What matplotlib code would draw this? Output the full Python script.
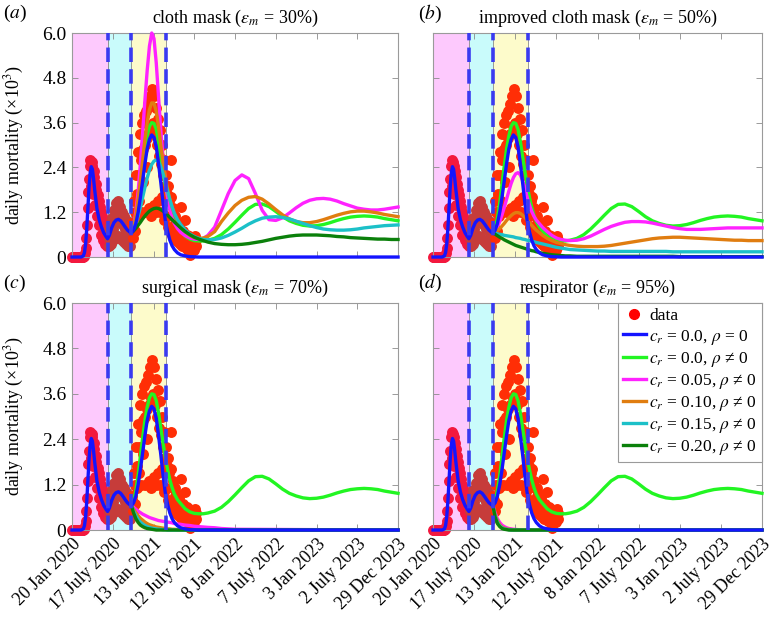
import matplotlib
matplotlib.use('Agg')
import matplotlib.pyplot as plt
from matplotlib.lines import Line2D

plt.rcParams['font.family'] = ['Liberation Serif', 'DejaVu Serif']
plt.rcParams['mathtext.fontset'] = 'stix'

# ---- observed daily mortality (x10^3), days since 20 Jan 2020 ----
p1_days = [0, 3, 6, 9, 12, 15, 18, 21, 24, 27, 30, 33, 36, 39, 42, 45, 48, 51, 54, 57,
           60, 63, 66, 69, 72, 75, 78, 81, 84, 87, 90, 93, 96, 99, 102, 105, 108, 111,
           114, 117, 120, 123, 126, 129, 132, 135, 138, 141, 144, 147, 150, 153, 156]
p1_vals = [0, 0, 0, 0, 0, 0, 0, 0, 0, 0, 0, 0, 0, 0, 0, 0, 0.01, 0.02, 0.04, 0.1,
           0.25, 0.5, 0.85, 1.3, 1.75, 2.1, 2.45, 2.6, 1.9, 2.55, 2.45, 1.7, 2.3, 2.15,
           1.4, 1.95, 1.8, 1.1, 1.65, 1.5, 0.85, 1.35, 1.2, 0.6, 1.1, 1.0, 0.45, 0.95,
           0.8, 0.35, 0.8, 0.7, 0.3]
p2_days = [159, 162, 165, 168, 171, 174, 177, 180, 183, 186, 189, 192, 195, 198, 201,
           204, 207, 210, 213, 216, 219, 222, 225, 228, 231, 234, 237, 240, 243, 246,
           249, 252, 255, 258, 261]
p2_vals = [0.7, 0.5, 0.3, 0.85, 0.6, 0.35, 1.05, 0.75, 0.45, 1.25, 0.9, 0.5, 1.45, 1.1,
           0.55, 1.5, 1.0, 0.5, 1.35, 0.95, 0.45, 1.2, 0.85, 0.4, 1.1, 0.75, 0.35, 1.0,
           0.7, 0.3, 0.9, 0.6, 0.3, 0.85, 0.55]
p3_days = [264, 267, 270, 273, 276, 279, 282, 285, 288, 291, 294, 297, 300, 303, 306,
           309, 312, 315, 318, 321, 324, 327, 330, 333, 336, 339, 342, 345, 348, 351,
           354, 357, 360, 363, 366, 369, 372, 375, 378, 381, 384, 387, 390, 393, 396,
           399, 402, 405, 408, 411, 414, 417, 420, 423, 426, 429, 432, 435, 438, 441,
           444, 447, 450, 453, 456, 459, 462, 465, 468, 471, 474, 477, 480, 483, 486,
           489, 492, 495, 498, 501, 504, 507, 510, 513, 516, 519, 522, 525, 528, 531,
           534, 537, 540, 543, 546, 549]
p3_vals = [0.9, 0.8, 0.5, 1.5, 1.2, 0.7, 2.2, 1.7, 1.1, 2.8, 2.2, 1.5, 3.3, 2.6, 1.2,
           3.6, 2.9, 2.0, 3.8, 3.0, 1.2, 3.9, 3.2, 2.4, 4.1, 3.3, 1.3, 4.3, 3.5, 1.1,
           4.5, 3.6, 1.4, 4.3, 3.3, 1.2, 4.0, 3.0, 1.5, 3.7, 2.7, 1.2, 3.4, 2.5, 1.6,
           3.0, 2.2, 1.0, 2.6, 1.9, 1.1, 2.2, 1.7, 0.8, 1.9, 1.5, 0.7, 1.6, 2.6, 0.6,
           1.3, 1.1, 0.5, 1.1, 0.9, 0.45, 0.95, 0.8, 0.4, 0.85, 0.7, 0.35, 1.35, 0.65, 0.3,
           0.7, 0.6, 0.3, 1.0, 0.55, 0.25, 0.6, 0.5, 0.2, 0.55, 0.45, 0.05, 0.5, 0.4, 0.2,
           0.45, 0.35, 0.2, 0.55, 0.3, 0.45]

# ---- model: c_r = 0.0, rho = 0 (same in every panel) ----
base_days = [0, 20, 40, 50, 55, 60, 65, 70, 75, 80, 85, 90, 95, 100, 110, 120, 130, 140,
             150, 157, 165, 175, 185, 195, 205, 215, 225, 235, 245, 255, 262, 272, 282,
             292, 302, 312, 322, 332, 342, 352, 362, 372, 382, 392, 402, 412, 422, 432,
             442, 452, 466, 480, 500, 520, 560, 1440]
base_vals = [0, 0, 0, 0.03, 0.12, 0.35, 0.75, 1.3, 1.85, 2.25, 2.42, 2.35, 2.1, 1.8, 1.3,
             1.0, 0.8, 0.65, 0.55, 0.49, 0.58, 0.78, 0.92, 0.99, 1.01, 0.97, 0.89, 0.8,
             0.72, 0.67, 0.64, 0.72, 0.9, 1.2, 1.6, 2.05, 2.5, 2.9, 3.15, 3.27, 3.2, 2.95,
             2.5, 2.0, 1.45, 0.98, 0.68, 0.45, 0.3, 0.2, 0.11, 0.06, 0.03, 0.01, 0, 0]

# ---- model runs after mask intervention ----
run_days = [262, 272, 282, 292, 302, 312, 322, 332, 342, 352, 362, 372, 382, 392, 402,
            412, 422, 432, 442, 452, 466, 480, 500, 520, 540, 560, 580, 600, 630, 660,
            690, 720, 750, 780, 810, 840, 870, 900, 930, 960, 990, 1020, 1050, 1080,
            1110, 1140, 1170, 1200, 1230, 1260, 1290, 1320, 1350, 1380, 1410, 1440]
short_days = [262, 272, 282, 292, 302, 312, 322, 332, 342, 352, 362, 372, 382, 392, 402,
              412, 422, 432, 442, 452, 466, 480, 500, 520, 540, 560, 580, 600, 630, 660,
              690, 720, 1440]

# c_r = 0.0, rho != 0 (same in every panel)
green_vals = [0.65, 0.78, 1.05, 1.45, 1.95, 2.45, 2.9, 3.25, 3.5, 3.6, 3.58, 3.42, 3.1,
              2.7, 2.3, 1.92, 1.6, 1.33, 1.12, 0.95, 0.8, 0.7, 0.56, 0.48, 0.44, 0.43,
              0.43, 0.45, 0.5, 0.6, 0.75, 0.93, 1.12, 1.3, 1.41, 1.42, 1.35, 1.22, 1.08,
              0.97, 0.9, 0.85, 0.83, 0.84, 0.87, 0.92, 0.98, 1.03, 1.07, 1.09, 1.1, 1.09,
              1.07, 1.03, 1.0, 0.97]

# panel (a) cloth mask
mag_a = [0.65, 0.85, 1.2, 1.75, 2.5, 3.35, 4.2, 5.0, 5.65, 6.0, 5.85, 5.2, 4.3, 3.4, 2.65,
         2.05, 1.6, 1.28, 1.05, 0.9, 0.76, 0.66, 0.57, 0.51, 0.48, 0.47, 0.5, 0.58, 0.8,
         1.25, 1.7, 2.05, 2.2, 2.1, 1.7, 1.25, 1.0, 0.98, 1.05, 1.18, 1.32, 1.44, 1.52,
         1.56, 1.57, 1.55, 1.5, 1.43, 1.37, 1.31, 1.28, 1.26, 1.26, 1.28, 1.31, 1.34]
orange_a = [0.65, 0.82, 1.12, 1.55, 2.05, 2.6, 3.15, 3.6, 3.95, 4.13, 4.12, 3.9, 3.5, 3.0,
            2.55, 2.15, 1.82, 1.55, 1.33, 1.15, 0.97, 0.83, 0.68, 0.58, 0.52, 0.5, 0.51,
            0.55, 0.68, 0.95, 1.18, 1.38, 1.52, 1.6, 1.62, 1.55, 1.42, 1.27, 1.13, 1.02,
            0.95, 0.92, 0.92, 0.95, 1.0, 1.06, 1.12, 1.17, 1.21, 1.23, 1.23, 1.21, 1.18,
            1.14, 1.11, 1.08]
cyan_a = [0.65, 0.74, 0.9, 1.1, 1.33, 1.6, 1.87, 2.12, 2.33, 2.48, 2.57, 2.6, 2.55, 2.42,
          2.23, 2.0, 1.76, 1.54, 1.34, 1.17, 1.0, 0.87, 0.72, 0.62, 0.55, 0.5, 0.47, 0.46,
          0.47, 0.51, 0.58, 0.67, 0.77, 0.88, 0.97, 1.04, 1.07, 1.08, 1.06, 1.02, 0.96,
          0.9, 0.84, 0.79, 0.75, 0.73, 0.72, 0.72, 0.73, 0.75, 0.78, 0.8, 0.82, 0.84,
          0.85, 0.86]
dkgreen_a = [0.65, 0.7, 0.77, 0.85, 0.93, 1.02, 1.1, 1.17, 1.23, 1.27, 1.3, 1.31, 1.3,
             1.27, 1.23, 1.18, 1.12, 1.06, 1.0, 0.94, 0.86, 0.78, 0.68, 0.6, 0.53, 0.48,
             0.44, 0.4, 0.36, 0.34, 0.33, 0.33, 0.34, 0.36, 0.39, 0.42, 0.46, 0.5, 0.53,
             0.56, 0.58, 0.59, 0.59, 0.59, 0.58, 0.57, 0.55, 0.54, 0.52, 0.51, 0.5, 0.49,
             0.48, 0.48, 0.47, 0.47]

# panel (b) improved cloth mask
mag_b = [0.65, 0.7, 0.8, 0.95, 1.13, 1.33, 1.55, 1.77, 1.97, 2.13, 2.23, 2.26, 2.2, 2.05,
         1.85, 1.6, 1.4, 1.22, 1.09, 0.99, 0.89, 0.79, 0.68, 0.58, 0.51, 0.47, 0.45, 0.44,
         0.45, 0.49, 0.56, 0.65, 0.74, 0.82, 0.88, 0.93, 0.95, 0.95, 0.94, 0.91, 0.87,
         0.83, 0.79, 0.76, 0.74, 0.74, 0.74, 0.75, 0.76, 0.77, 0.78, 0.78, 0.78, 0.78,
         0.78, 0.78]
orange_b = [0.65, 0.67, 0.71, 0.76, 0.83, 0.9, 0.98, 1.05, 1.11, 1.16, 1.19, 1.19, 1.17,
            1.12, 1.06, 0.99, 0.92, 0.85, 0.78, 0.72, 0.65, 0.58, 0.5, 0.44, 0.39, 0.36,
            0.33, 0.31, 0.29, 0.28, 0.28, 0.28, 0.29, 0.31, 0.34, 0.37, 0.4, 0.43, 0.46,
            0.49, 0.51, 0.52, 0.53, 0.53, 0.52, 0.51, 0.5, 0.49, 0.48, 0.47, 0.46, 0.45,
            0.45, 0.44, 0.44, 0.44]
cyan_b = [0.65, 0.64, 0.62, 0.61, 0.6, 0.58, 0.57, 0.56, 0.55, 0.54, 0.52, 0.51, 0.5, 0.48,
          0.47, 0.45, 0.44, 0.42, 0.41, 0.39, 0.37, 0.35, 0.32, 0.29, 0.26, 0.24, 0.22,
          0.2, 0.19, 0.18, 0.17, 0.16, 0.16, 0.15, 0.15, 0.15, 0.15, 0.15, 0.15, 0.15,
          0.15, 0.15, 0.14, 0.14, 0.14, 0.14, 0.14, 0.14, 0.14, 0.14, 0.14, 0.14, 0.14,
          0.14, 0.14, 0.14]
dkgreen_b = [0.65, 0.61, 0.57, 0.53, 0.5, 0.46, 0.43, 0.4, 0.37, 0.34, 0.31, 0.29, 0.27,
             0.25, 0.23, 0.21, 0.19, 0.17, 0.16, 0.14, 0.12, 0.1, 0.08, 0.06, 0.05, 0.04,
             0.03, 0.03, 0.02, 0.02, 0.02, 0.02, 0.02, 0.02, 0.02, 0.02, 0.02, 0.02, 0.02,
             0.02, 0.02, 0.02, 0.02, 0.01, 0.01, 0.01, 0.01, 0.01, 0.01, 0.01, 0.01, 0.01,
             0.01, 0.01, 0.01, 0.01]

# panel (c) surgical mask
mag_c = [0.65, 0.6, 0.55, 0.5, 0.46, 0.42, 0.39, 0.36, 0.33, 0.31, 0.29, 0.27, 0.25, 0.24,
         0.23, 0.22, 0.21, 0.2, 0.19, 0.17, 0.16, 0.15, 0.13, 0.12, 0.1, 0.09, 0.08, 0.07,
         0.06, 0.04, 0.03, 0.02, 0.0]
orange_c = [0.65, 0.55, 0.46, 0.38, 0.31, 0.26, 0.21, 0.17, 0.14, 0.12, 0.1, 0.08, 0.07,
            0.06, 0.05, 0.04, 0.03, 0.03, 0.02, 0.02, 0.01, 0.01, 0.01, 0.0, 0.0, 0.0,
            0.0, 0.0, 0.0, 0.0, 0.0, 0.0, 0.0]
cyan_c = [0.65, 0.5, 0.38, 0.28, 0.21, 0.16, 0.12, 0.09, 0.07, 0.05, 0.04, 0.03, 0.02,
          0.02, 0.01, 0.01, 0.0, 0.0, 0.0, 0.0, 0.0, 0.0, 0.0, 0.0, 0.0, 0.0, 0.0, 0.0,
          0.0, 0.0, 0.0, 0.0, 0.0]
dkgreen_c = [0.65, 0.45, 0.3, 0.2, 0.13, 0.09, 0.06, 0.04, 0.03, 0.02, 0.01, 0.0, 0.0,
             0.0, 0.0, 0.0, 0.0, 0.0, 0.0, 0.0, 0.0, 0.0, 0.0, 0.0, 0.0, 0.0, 0.0, 0.0,
             0.0, 0.0, 0.0, 0.0, 0.0]

# panel (d) respirator
mag_d = [0.65, 0.45, 0.3, 0.2, 0.13, 0.09, 0.06, 0.04, 0.03, 0.02, 0.015, 0.01, 0.0, 0.0,
         0.0, 0.0, 0.0, 0.0, 0.0, 0.0, 0.0, 0.0, 0.0, 0.0, 0.0, 0.0, 0.0, 0.0, 0.0, 0.0,
         0.0, 0.0, 0.0]
orange_d = [0.65, 0.4, 0.24, 0.14, 0.08, 0.05, 0.03, 0.02, 0.01, 0.0, 0.0, 0.0, 0.0, 0.0,
            0.0, 0.0, 0.0, 0.0, 0.0, 0.0, 0.0, 0.0, 0.0, 0.0, 0.0, 0.0, 0.0, 0.0, 0.0,
            0.0, 0.0, 0.0, 0.0]
cyan_d = [0.65, 0.37, 0.2, 0.11, 0.06, 0.03, 0.02, 0.01, 0.0, 0.0, 0.0, 0.0, 0.0, 0.0,
          0.0, 0.0, 0.0, 0.0, 0.0, 0.0, 0.0, 0.0, 0.0, 0.0, 0.0, 0.0, 0.0, 0.0, 0.0, 0.0,
          0.0, 0.0, 0.0]
dkgreen_d = [0.65, 0.34, 0.17, 0.09, 0.04, 0.02, 0.01, 0.0, 0.0, 0.0, 0.0, 0.0, 0.0, 0.0,
             0.0, 0.0, 0.0, 0.0, 0.0, 0.0, 0.0, 0.0, 0.0, 0.0, 0.0, 0.0, 0.0, 0.0, 0.0,
             0.0, 0.0, 0.0, 0.0]

tick_days = [0, 180, 360, 540, 720, 900, 1080, 1260, 1440]
tick_labels = ['20 Jan 2020', '17 July 2020', '13 Jan 2021', '12 July 2021', '8 Jan 2022',
               '7 July 2022', '3 Jan 2023', '2 July 2023', '29 Dec 2023']
y_ticks = [0, 1.2, 2.4, 3.6, 4.8, 6.0]
y_labels = ['0', '1.2', '2.4', '3.6', '4.8', '6.0']
phase_days = [157, 262, 414]

# colours
C_BLUE = '#1414ff'
C_GREEN = '#22f522'
C_MAG = '#ff22ff'
C_ORANGE = '#e07d10'
C_CYAN = '#1cc0c8'
C_DKGREEN = '#0b800b'
SHADES = ['#fdc9fd', '#c9fbfb', '#fdfbcb']

legend_labels = ['data',
                 r'$c_r$ = 0.0, $\rho$ = 0',
                 r'$c_r$ = 0.0, $\rho$ ≠ 0',
                 r'$c_r$ = 0.05, $\rho$ ≠ 0',
                 r'$c_r$ = 0.10, $\rho$ ≠ 0',
                 r'$c_r$ = 0.15, $\rho$ ≠ 0',
                 r'$c_r$ = 0.20, $\rho$ ≠ 0']


def draw_panel(ax, days, mag, orange, cyan, dkgreen, title, show_x, show_y):
    edges = [0] + phase_days
    for i in range(3):
        ax.axvspan(edges[i], edges[i + 1] + 3, facecolor=SHADES[i], edgecolor='#8a8a8a',
                   linewidth=0.6, zorder=0)

    ms = 62
    ax.scatter(p1_days, p1_vals, s=ms, color='#f3183e', linewidths=0, zorder=2, clip_on=False)
    ax.scatter(p2_days, p2_vals, s=ms, color='#c63c3a', linewidths=0, zorder=2, clip_on=False)
    ax.scatter(p3_days, p3_vals, s=ms, color='#ff2e06', linewidths=0, zorder=2, clip_on=False)

    lw = 2.4
    ax.plot(run_days, green_vals, color=C_GREEN, lw=lw, zorder=3, clip_on=False)
    ax.plot(days, mag, color=C_MAG, lw=lw, zorder=3, clip_on=False)
    ax.plot(days, orange, color=C_ORANGE, lw=lw, zorder=3, clip_on=False)
    ax.plot(days, cyan, color=C_CYAN, lw=lw, zorder=3, clip_on=False)
    ax.plot(days, dkgreen, color=C_DKGREEN, lw=lw, zorder=3, clip_on=False)
    ax.plot(base_days, base_vals, color=C_BLUE, lw=lw, zorder=4, clip_on=False)

    for d in phase_days:
        ax.axvline(d, color='#3a3af0', lw=2.6, dashes=(4.0, 2.0), zorder=6)

    ax.set_xlim(0, 1440)
    ax.set_ylim(0, 6.0)
    ax.set_xticks(tick_days)
    ax.set_yticks(y_ticks)
    if show_x:
        ax.set_xticklabels(tick_labels, rotation=45, ha='right', va='top',
                           rotation_mode='anchor', fontsize=13)
    else:
        ax.set_xticklabels([])
    if show_y:
        ax.set_yticklabels(y_labels, fontsize=14)
        ax.set_ylabel('daily mortality (×10$^3$)', fontsize=13)
        ax.yaxis.set_label_coords(-0.14, 0.5)
    else:
        ax.set_yticklabels([])
    ax.tick_params(direction='in', top=True, right=True, length=4, width=0.6,
                   color='#8a8a8a', pad=4)
    for sp in ax.spines.values():
        sp.set_color('#9a9a9a')
        sp.set_linewidth(0.8)
    ax.set_title(title, fontsize=13, pad=7)


fig = plt.figure(figsize=(7.77, 6.24), dpi=100)
ax_a = fig.add_axes([0.0927, 0.5881, 0.4196, 0.3590])
ax_b = fig.add_axes([0.5573, 0.5881, 0.4234, 0.3590])
ax_c = fig.add_axes([0.0927, 0.1506, 0.4196, 0.3638])
ax_d = fig.add_axes([0.5573, 0.1506, 0.4234, 0.3638])

draw_panel(ax_a, run_days, mag_a, orange_a, cyan_a, dkgreen_a,
           r'cloth mask ($\varepsilon_m$ = 30%)', False, True)
draw_panel(ax_b, run_days, mag_b, orange_b, cyan_b, dkgreen_b,
           r'improved cloth mask ($\varepsilon_m$ = 50%)', False, False)
draw_panel(ax_c, short_days, mag_c, orange_c, cyan_c, dkgreen_c,
           r'surgical mask ($\varepsilon_m$ = 70%)', True, True)
draw_panel(ax_d, short_days, mag_d, orange_d, cyan_d, dkgreen_d,
           r'respirator ($\varepsilon_m$ = 95%)', True, False)

fig.text(0.004, 0.978, '($a$)', fontsize=14, va='center')
fig.text(0.538, 0.978, '($b$)', fontsize=14, va='center')
fig.text(0.004, 0.546, '($c$)', fontsize=14, va='center')
fig.text(0.538, 0.546, '($d$)', fontsize=14, va='center')

handles = [Line2D([], [], marker='o', color='#ff0000', linestyle='none', markersize=7)]
for col in [C_BLUE, C_GREEN, C_MAG, C_ORANGE, C_CYAN, C_DKGREEN]:
    handles.append(Line2D([], [], color=col, lw=2.4))
leg = ax_d.legend(handles, legend_labels, loc='upper right', fontsize=12.5, frameon=True,
                  fancybox=False, edgecolor='#9a9a9a', framealpha=1, borderaxespad=0,
                  handlelength=1.3, handletextpad=0.2, labelspacing=0.18, borderpad=0.3)
leg.get_frame().set_linewidth(0.8)
leg.set_zorder(10)

fig.savefig('out.png', dpi=100, facecolor='white')
